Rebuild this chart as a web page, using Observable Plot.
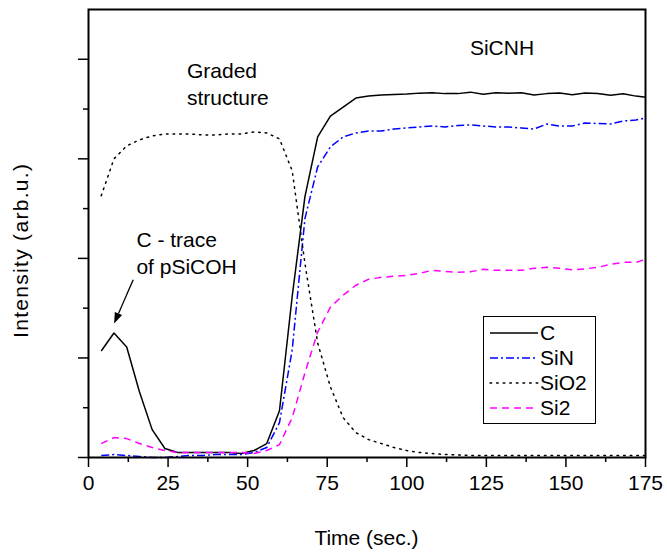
<!DOCTYPE html>
<html><head><meta charset="utf-8">
<script src="https://cdn.jsdelivr.net/npm/d3@7"></script>
<script src="https://cdn.jsdelivr.net/npm/@observablehq/plot@0.6"></script>
<style>
body{margin:0;background:#fff}
svg{font-family:"Liberation Sans",Arial,sans-serif}
</style>
</head><body><div id="chart"></div>
<script>
// ---- data ----
const time = [4,8,12,16,20,24,28,32,36,40,44,48,52,56,60,64,68,72,76,80,84,88,92,96,100,104,108,112,116,120,124,128,132,136,140,144,148,152,156,160,164,168,172,175];
const C    = [1.07,1.25,1.11,0.66,0.28,0.09,0.05,0.05,0.05,0.05,0.05,0.04,0.07,0.14,0.47,1.62,2.62,3.22,3.43,3.52,3.61,3.63,3.64,3.645,3.65,3.66,3.665,3.655,3.655,3.67,3.648,3.664,3.66,3.664,3.641,3.655,3.661,3.644,3.661,3.657,3.638,3.654,3.63,3.618];
const SiN  = [0.02,0.03,0.02,0.01,0.0,0.0,0.01,0.02,0.02,0.03,0.03,0.03,0.05,0.1,0.35,1.08,2.4,2.92,3.12,3.22,3.26,3.28,3.28,3.30,3.31,3.32,3.33,3.32,3.335,3.34,3.33,3.32,3.32,3.31,3.30,3.35,3.33,3.33,3.36,3.355,3.35,3.38,3.39,3.41];
const SiO2 = [2.63,3.0,3.13,3.19,3.23,3.25,3.25,3.25,3.24,3.24,3.25,3.25,3.27,3.26,3.2,2.88,1.95,1.15,0.71,0.40,0.25,0.18,0.14,0.10,0.07,0.05,0.04,0.03,0.025,0.02,0.02,0.02,0.02,0.02,0.02,0.02,0.02,0.02,0.02,0.02,0.02,0.02,0.02,0.02];
const Si2  = [0.14,0.2,0.19,0.14,0.10,0.07,0.05,0.05,0.05,0.05,0.05,0.05,0.04,0.07,0.13,0.4,0.85,1.26,1.51,1.63,1.73,1.79,1.81,1.82,1.83,1.85,1.88,1.87,1.86,1.865,1.89,1.88,1.88,1.88,1.9,1.91,1.9,1.885,1.895,1.91,1.94,1.96,1.96,1.99];
const seriesNames = ["C","SiN","SiO2","Si2"];
const xMajorTicks = [0,25,50,75,100,125,150,175];
const xMinorTicks = [12.5,37.5,62.5,87.5,112.5,137.5,162.5];
const yMajorTicks = [0,1,2,3,4];
const yMinorTicks = [0.5,1.5,2.5,3.5];
const xLabel = "Time (sec.)";
const yLabel = "Intensity (arb.u.)";
const notes = [
  {lines:["Graded","structure"], t:31.1, v:3.805},
  {lines:["SiCNH"], t:120, v:4.036},
  {lines:["C - trace","of pSiCOH"], t:15.2, v:2.108}
];
const arrowFrom = {t:14.2, v:1.78};
const arrowTo = {t:8.2, v:1.34};

// ---- styling ----
const values = {C, SiN, SiO2, Si2};
const style = {
  C:{stroke:"#000000", dash:null},
  SiN:{stroke:"#0000ff", dash:"8,3,2,3"},
  SiO2:{stroke:"#000000", dash:"1.6,5"},
  Si2:{stroke:"#ff00ff", dash:"7,5"}
};
const rows = [];
seriesNames.forEach(name => time.forEach((t, j) => rows.push({series:name, t, v:values[name][j]})));

const FS = 21;
const plot = Plot.plot({
  width:667, height:554,
  marginTop:9, marginRight:22, marginBottom:97, marginLeft:88,
  style:{fontFamily:'"Liberation Sans",Arial,sans-serif', fontSize:FS+"px", background:"white", color:"black", overflow:"visible"},
  x:{domain:[0,175]},
  y:{domain:[0,4.5]},
  marks:[
    ...seriesNames.map(name => Plot.line(rows.filter(d => d.series === name), {
      x:"t", y:"v", stroke:style[name].stroke, strokeWidth:1.5,
      strokeDasharray:style[name].dash, strokeLinecap: name === "SiO2" ? "round" : "butt"
    })),
    Plot.axisX({ticks:xMajorTicks, tickSize:10, tickPadding:8, fontSize:FS, label:null, strokeWidth:1.5, tickFormat:d => String(d)}),
    Plot.axisX({ticks:xMinorTicks, tickSize:5, label:null, strokeWidth:1.5, tickFormat:() => ""}),
    Plot.axisY({ticks:yMajorTicks, tickSize:10, label:null, strokeWidth:1.5, tickFormat:() => ""}),
    Plot.axisY({ticks:yMinorTicks, tickSize:5, label:null, strokeWidth:1.5, tickFormat:() => ""}),
    Plot.frame({stroke:"black", strokeWidth:2})
  ]
});
document.getElementById("chart").appendChild(plot);

const sx = plot.scale("x"), sy = plot.scale("y");
const svg = d3.select(plot);

// axis labels
svg.append("text").attr("x", 366.5).attr("y", 545).attr("text-anchor","middle")
  .attr("font-size", FS).attr("fill","black").text(xLabel);
svg.append("text").attr("transform","translate(28,251) rotate(-90)").attr("text-anchor","middle")
  .attr("font-size", FS).attr("textLength", 174).attr("lengthAdjust","spacing")
  .attr("fill","black").text(yLabel);

// annotations
notes.forEach(n => {
  const x0 = sx.apply(n.t), y0 = sy.apply(n.v);
  n.lines.forEach((line, i) => {
    svg.append("text").attr("x", x0).attr("y", y0 + i*26.5).attr("font-size", FS)
      .attr("text-anchor","start").attr("fill","black").text(line);
  });
});

// arrow
{
  const x1 = sx.apply(arrowFrom.t), y1 = sy.apply(arrowFrom.v);
  const x2 = sx.apply(arrowTo.t), y2 = sy.apply(arrowTo.v);
  const ang = Math.atan2(y2 - y1, x2 - x1);
  const L = 11, W = 4;
  const bx = x2 - L*Math.cos(ang), by = y2 - L*Math.sin(ang);
  svg.append("line").attr("x1",x1).attr("y1",y1).attr("x2",bx).attr("y2",by)
    .attr("stroke","black").attr("stroke-width",1.3);
  svg.append("polygon").attr("points", [
    [x2,y2],
    [bx + W*Math.sin(ang), by - W*Math.cos(ang)],
    [bx - W*Math.sin(ang), by + W*Math.cos(ang)]
  ].map(p => p.join(",")).join(" ")).attr("fill","black");
}

// legend
{
  const g = svg.append("g");
  g.append("rect").attr("x",483.5).attr("y",316.5).attr("width",112).attr("height",107)
    .attr("fill","white").attr("stroke","black").attr("stroke-width",1);
  seriesNames.forEach((name, i) => {
    const y = 333 + i*25;
    g.append("line").attr("x1",490).attr("x2",538).attr("y1",y).attr("y2",y)
      .attr("stroke",style[name].stroke).attr("stroke-width",1.5)
      .attr("stroke-dasharray",style[name].dash).attr("stroke-linecap", name === "SiO2" ? "round" : "butt");
    g.append("text").attr("x",540).attr("y",y).attr("dy","0.35em").attr("font-size",FS)
      .attr("text-anchor","start").attr("fill","black").text(name);
  });
}
</script>
</body></html>
